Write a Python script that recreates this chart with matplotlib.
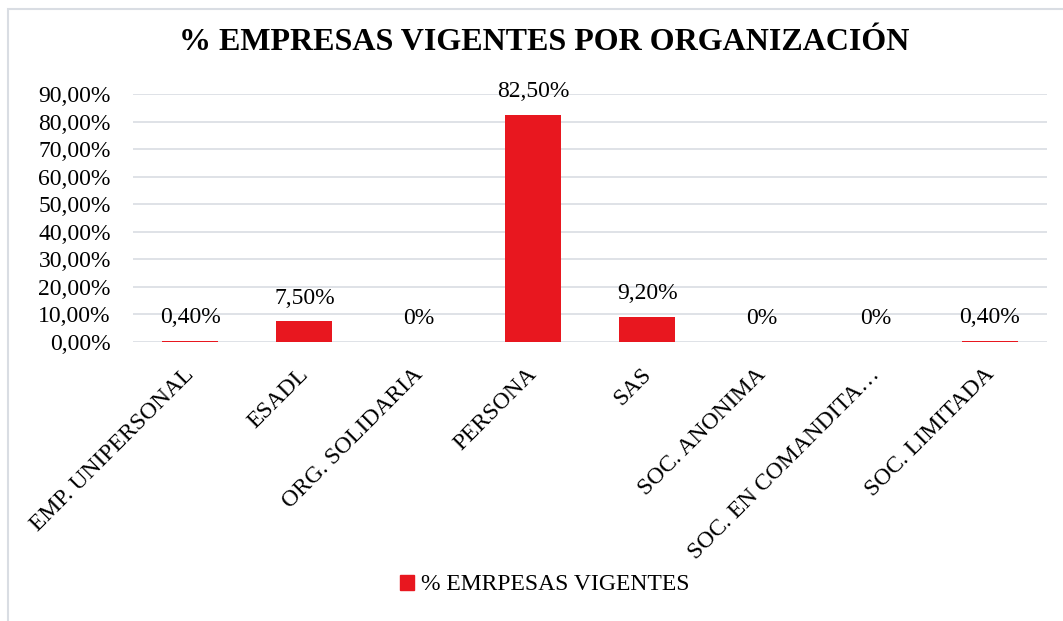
import matplotlib
matplotlib.use("Agg")
import matplotlib.pyplot as plt
from matplotlib.patches import Rectangle, Patch
from matplotlib.transforms import ScaledTranslation

categories = ["EMP. UNIPERSONAL", "ESADL", "ORG. SOLIDARIA", "PERSONA", "SAS",
              "SOC. ANONIMA", "SOC. EN COMANDITA…", "SOC. LIMITADA"]
values = [0.40, 7.50, 0.0, 82.50, 9.20, 0.0, 0.0, 0.40]
value_labels = ["0,40%", "7,50%", "0%", "82,50%", "9,20%", "0%", "0%", "0,40%"]
yticks = [0, 10, 20, 30, 40, 50, 60, 70, 80, 90]
ytick_labels = ["0,00%", "10,00%", "20,00%", "30,00%", "40,00%", "50,00%",
                "60,00%", "70,00%", "80,00%", "90,00%"]
series_name = "% EMRPESAS VIGENTES"
title = "% EMPRESAS VIGENTES POR ORGANIZACIÓN"

RED = "#E8171F"
GRID = "#D9DDE3"
FS = 17
plt.rcParams['font.family'] = ['Liberation Serif', 'DejaVu Serif']

fig = plt.figure(figsize=(10.63, 6.21), dpi=100)
fig.patch.set_facecolor("white")
# chart frame
fig.add_artist(Rectangle((8 / 1063, -0.05), 1.2, 1 - 9 / 621 + 0.05,
                         transform=fig.transFigure, fill=False,
                         edgecolor=GRID, linewidth=1.5))

ax = fig.add_axes([133 / 1063, 1 - 342 / 621, (1047 - 133) / 1063, (342 - 94) / 621])
x = list(range(len(categories)))
ax.bar(x, values, width=0.49, color=RED, linewidth=0, zorder=3)
ax.set_xlim(-0.5, len(categories) - 0.5)
ax.set_ylim(0, 90)
ax.set_yticks(yticks)
ax.set_yticklabels(ytick_labels, fontsize=FS)
ax.yaxis.grid(True, color=GRID, linewidth=1.2, zorder=0)
ax.set_axisbelow(True)
for s in ax.spines.values():
    s.set_visible(False)
ax.tick_params(axis='y', length=0, pad=16)
ax.tick_params(axis='x', length=0, pad=21)
ax.set_xticks(x)
ax.set_xticklabels(categories, fontsize=FS, rotation=45, ha='right',
                   rotation_mode='anchor', va='center')
shift = ScaledTranslation(1 / 100, 0, fig.dpi_scale_trans)
for lbl in ax.get_xticklabels():
    lbl.set_transform(lbl.get_transform() + shift)

for xi, v, lab in zip(x, values, value_labels):
    ax.annotate(lab, (xi, v), xytext=(0, 9), textcoords='offset points',
                ha='center', va='bottom', fontsize=FS)

fig.text(544 / 1063, 1 - 43 / 621, title, ha='center', va='center',
         fontsize=23, fontweight='bold')

fig.legend(handles=[Patch(color=RED, label=series_name)], loc='center',
           bbox_to_anchor=(545 / 1063, 1 - 585 / 621), frameon=False,
           fontsize=FS, handlelength=0.6, handleheight=0.6, handletextpad=0.3)

fig.savefig("out.png", dpi=100, facecolor="white")
